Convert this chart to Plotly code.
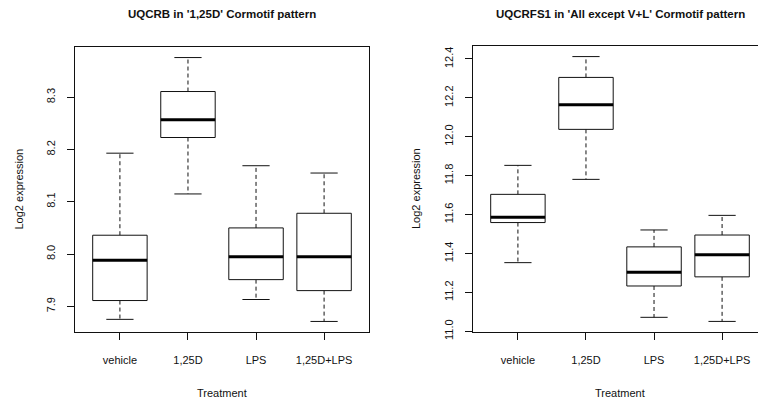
import plotly.graph_objects as go

# Treatment groups shown on both panels
treatments = ["vehicle", "1,25D", "LPS", "1,25D+LPS"]

# UQCRB five-number summaries (lower whisker, Q1, median, Q3, upper whisker)
uqcrb_low = [7.875, 8.115, 7.913, 7.871]
uqcrb_q1 = [7.911, 8.223, 7.951, 7.930]
uqcrb_med = [7.988, 8.257, 7.995, 7.995]
uqcrb_q3 = [8.036, 8.311, 8.050, 8.078]
uqcrb_high = [8.193, 8.376, 8.169, 8.155]
uqcrb_ticks = [7.9, 8.0, 8.1, 8.2, 8.3]

# UQCRFS1 five-number summaries
uqcrfs1_low = [11.353, 11.781, 11.072, 11.051]
uqcrfs1_q1 = [11.559, 12.038, 11.233, 11.280]
uqcrfs1_med = [11.586, 12.165, 11.303, 11.394]
uqcrfs1_q3 = [11.704, 12.305, 11.434, 11.495]
uqcrfs1_high = [11.853, 12.412, 11.521, 11.596]
uqcrfs1_ticks = [11.0, 11.2, 11.4, 11.6, 11.8, 12.0, 12.2, 12.4]

W, H = 758, 404
FONT = "Liberation Sans, Arial, sans-serif"
INK = "#111111"
HALF_BOX = 0.4     # boxwex 0.8
HALF_CAP = 0.2     # staple half-width

fig = go.Figure()


def add_boxes(low, q1, med, q3, high, xa, ya):
    bx, by, mx, my, wx, wy, cx, cy = [], [], [], [], [], [], [], []
    for i in range(len(treatments)):
        x = i + 1
        bx += [x - HALF_BOX, x + HALF_BOX, x + HALF_BOX, x - HALF_BOX, x - HALF_BOX, None]
        by += [q1[i], q1[i], q3[i], q3[i], q1[i], None]
        mx += [x - HALF_BOX, x + HALF_BOX, None]
        my += [med[i], med[i], None]
        wx += [x, x, None, x, x, None]
        wy += [q3[i], high[i], None, q1[i], low[i], None]
        cx += [x - HALF_CAP, x + HALF_CAP, None, x - HALF_CAP, x + HALF_CAP, None]
        cy += [high[i], high[i], None, low[i], low[i], None]
    common = dict(mode="lines", xaxis=xa, yaxis=ya, hoverinfo="skip", showlegend=False)
    fig.add_trace(go.Scatter(x=wx, y=wy, line=dict(color=INK, width=1, dash="4px,3px"), **common))
    fig.add_trace(go.Scatter(x=cx, y=cy, line=dict(color=INK, width=1), **common))
    fig.add_trace(go.Scatter(x=bx, y=by, line=dict(color=INK, width=1), fill="toself",
                             fillcolor="white", **common))
    fig.add_trace(go.Scatter(x=mx, y=my, line=dict(color="black", width=3), **common))


add_boxes(uqcrb_low, uqcrb_q1, uqcrb_med, uqcrb_q3, uqcrb_high, "x", "y")
add_boxes(uqcrfs1_low, uqcrfs1_q1, uqcrfs1_med, uqcrfs1_q3, uqcrfs1_high, "x2", "y2")


def padded(lo, hi):
    a, b = min(lo), max(hi)
    w = b - a
    return [a - 0.04 * w, b + 0.04 * w]


# plot regions in pixels
L_left, L_right = 75, 369
R_left = 473
x_per_unit = (L_right - L_left) / 4.32
x_lo = 0.34
right_hi = x_lo + (W - R_left) / x_per_unit

tickfont = dict(family=FONT, size=11, color=INK)
xaxis_common = dict(
    tickmode="array", tickvals=[1, 2, 3, 4], ticktext=treatments,
    ticks="outside", ticklen=7, tickcolor=INK, showgrid=False, zeroline=False,
    showline=True, linecolor=INK, linewidth=1, tickfont=tickfont,
    ticklabelstandoff=11,
)
yaxis_common = dict(
    ticks="outside", ticklen=7, tickcolor=INK, showgrid=False, zeroline=False,
    showline=True, linecolor=INK, linewidth=1, tickfont=tickfont, tickangle=-90,
    tickmode="array", ticklabelstandoff=8,
)

fig.update_layout(
    width=W, height=H,
    margin=dict(l=0, r=0, t=0, b=0, autoexpand=False),
    paper_bgcolor="white", plot_bgcolor="white",
    xaxis=dict(**xaxis_common, anchor="y", domain=[L_left / W, L_right / W],
               range=[x_lo, 4.66], mirror=True),
    yaxis=dict(**yaxis_common, anchor="x", domain=[1 - 332 / H, 1 - 47 / H],
               range=padded(uqcrb_low, uqcrb_high), tickvals=uqcrb_ticks,
               ticktext=[f"{v:.1f}" for v in uqcrb_ticks], mirror=True),
    xaxis2=dict(**xaxis_common, anchor="y2", domain=[R_left / W, 1.0],
                range=[x_lo, right_hi], mirror=True),
    yaxis2=dict(**yaxis_common, anchor="x2", domain=[1 - 332 / H, 1 - 46 / H],
                range=padded(uqcrfs1_low, uqcrfs1_high), tickvals=uqcrfs1_ticks,
                ticktext=[f"{v:.1f}" for v in uqcrfs1_ticks], mirror=False),
)

titlefont = dict(family=FONT, size=11.5, color=INK)
labelfont = dict(family=FONT, size=11, color=INK)
ann = [
    dict(text="<b>UQCRB in '1,25D' Cormotif pattern</b>", x=(L_left + L_right) / 2 / W, y=1 - 13.5 / H,
         font=titlefont),
    dict(text="<b>UQCRFS1 in 'All except V+L' Cormotif pattern</b>", x=620 / W, y=1 - 13.5 / H,
         font=titlefont),
    dict(text="Treatment", x=222 / W, y=1 - 393 / H, font=labelfont),
    dict(text="Treatment", x=620 / W, y=1 - 393 / H, font=labelfont),
    dict(text="Log2 expression", x=18 / W, y=1 - 189.5 / H, font=labelfont, textangle=-90),
    dict(text="Log2 expression", x=416 / W, y=1 - 189 / H, font=labelfont, textangle=-90),
]
for a in ann:
    fig.add_annotation(xref="paper", yref="paper", xanchor="center", yanchor="middle",
                       showarrow=False, **a)

fig.write_html("out.html")
